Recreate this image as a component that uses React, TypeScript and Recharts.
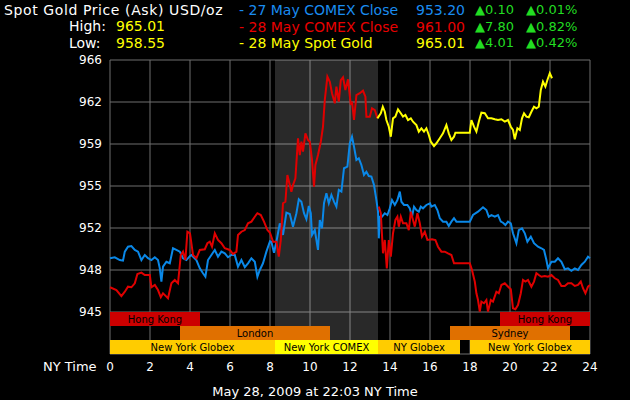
import React from 'react';
import { LineChart, Line, XAxis, YAxis, CartesianGrid, ReferenceArea } from 'recharts';

const FONT = '"DejaVu Sans", Verdana, sans-serif';

// NY time in hours, price in USD/oz
const hourTicks = [0, 2, 4, 6, 8, 10, 12, 14, 16, 18, 20, 22, 24];
const priceTicks = [941.5, 945, 948.5, 952, 955.5, 959, 962.5, 966];
const comexSession = [8.25, 13.4];

const sessions = [
  { name: 'Hong Kong', start: 0, end: 4.5, row: 0, kind: 'asia' },
  { name: 'Hong Kong', start: 19.5, end: 24, row: 0, kind: 'asia' },
  { name: 'London', start: 3.5, end: 11, row: 1, kind: 'europe' },
  { name: 'Sydney', start: 17, end: 23, row: 1, kind: 'europe' },
  { name: 'New York Globex', start: 0, end: 8.25, row: 2, kind: 'globex' },
  { name: 'New York COMEX', start: 8.25, end: 13.4, row: 2, kind: 'comex' },
  { name: 'NY Globex', start: 13.4, end: 17.5, row: 2, kind: 'globex' },
  { name: 'New York Globex', start: 18, end: 24, row: 2, kind: 'globex' },
];

const blueSeries: [number, number][] = [
  [0, 949.48], [0.24, 949.56], [0.49, 949.33], [0.65, 949.28], [0.74, 950.03], [0.9, 950.44], [1.07, 950.5],
  [1.24, 950.17], [1.4, 950.03], [1.57, 949.33], [1.74, 949.75], [1.9, 949.48], [2.07, 949.33], [2.24, 949.56],
  [2.4, 949.33], [2.49, 948.64], [2.57, 947.53], [2.65, 948.78], [2.82, 949.19], [2.99, 949.06], [3.15, 950.31],
  [3.32, 950.17], [3.49, 950.03], [3.65, 949.48], [3.82, 949.33], [4.0, 949.67], [4.07, 949.75], [4.32, 949.33],
  [4.49, 948.64], [4.65, 948.23], [4.77, 947.94], [4.9, 949.33], [5.07, 949.75], [5.24, 950.17], [5.4, 949.61],
  [5.57, 950.03], [5.74, 949.89], [5.9, 949.56], [6.07, 949.75], [6.24, 949.75], [6.4, 948.78], [6.57, 949.33],
  [6.74, 948.73], [6.9, 949.06], [7.07, 949.48], [7.24, 949.19], [7.37, 947.94], [7.49, 948.5], [7.65, 949.06],
  [7.82, 950.03], [8.0, 950.9], [8.07, 950.86], [8.2, 949.94], [8.32, 950.86], [8.49, 952.39], [8.65, 951.42],
  [8.82, 953.28], [8.99, 953.17], [9.15, 952.11], [9.32, 953.23], [9.44, 954.39], [9.57, 954.19], [9.7, 953.23],
  [9.82, 952.73], [9.94, 953.83], [10.04, 953.23], [10.1, 951.42], [10.24, 951.83], [10.4, 950.17], [10.49, 952.67],
  [10.6, 951.98], [10.7, 954.06], [10.82, 954.89], [10.94, 954.06], [11.07, 954.75], [11.2, 954.19], [11.32, 953.78],
  [11.44, 955.17], [11.57, 955.03], [11.7, 956.98], [11.87, 957.11], [11.99, 959.06], [12.1, 959.61], [12.2, 958.78],
  [12.32, 957.67], [12.44, 957.81], [12.57, 957.25], [12.7, 956.42], [12.82, 956.69], [12.94, 956.33], [13.07, 956.28],
  [13.2, 955.58], [13.32, 954.33], [13.4, 953.36], [13.44, 951.14], [13.5, 952.94], [13.6, 952.94], [13.74, 953.23],
  [13.87, 953.08], [13.99, 953.64], [14.1, 954.33], [14.24, 953.92], [14.37, 954.33], [14.49, 955.03], [14.57, 954.19],
  [14.7, 953.92], [14.87, 953.92], [14.99, 953.64], [15.1, 952.94], [15.2, 953.78], [15.32, 953.5], [15.44, 953.36],
  [15.54, 953.78], [15.65, 953.64], [15.82, 953.92], [16.0, 954.06], [16.07, 953.78], [16.24, 953.92], [16.37, 953.5],
  [16.49, 952.81], [16.65, 952.53], [16.82, 952.53], [16.94, 952.17], [17.07, 952.53], [17.2, 952.81], [17.32, 952.53],
  [17.99, 952.53], [18.15, 953.08], [18.4, 953.36], [18.65, 953.73], [18.82, 953.5], [18.94, 952.94], [19.07, 953.08],
  [19.24, 952.94], [19.4, 953.08], [19.54, 952.53], [19.65, 952.44], [19.77, 952.25], [19.9, 952.53], [20.04, 952.39],
  [20.15, 951.56], [20.32, 950.73], [20.44, 951.83], [20.6, 951.98], [20.74, 951.56], [20.87, 950.86], [21.04, 951.28],
  [21.2, 950.73], [21.4, 950.44], [21.57, 950.31], [21.7, 950.17], [21.82, 949.33], [21.9, 948.64], [22.07, 949.19],
  [22.24, 949.19], [22.4, 949.48], [22.57, 949.19], [22.74, 948.56], [22.9, 948.64], [23.07, 948.44], [23.24, 948.64],
  [23.4, 948.5], [23.57, 948.92], [23.74, 949.19], [23.9, 949.61], [24.0, 949.48],
];

const redSeries: [number, number | null][] = [
  [0, 947.06], [0.32, 946.83], [0.57, 946.33], [0.74, 946.69], [0.9, 947.11], [1.07, 947.06], [1.24, 947.39],
  [1.37, 948.17], [1.57, 948.28], [1.74, 948.08], [1.99, 948.08], [2.07, 947.06], [2.24, 947.25], [2.4, 946.83],
  [2.54, 946.23], [2.65, 946.56], [2.82, 946.28], [2.9, 946.14], [3.07, 947.39], [3.24, 947.67], [3.4, 947.39],
  [3.54, 949.75], [3.65, 950.03], [3.77, 949.33], [3.87, 951.69], [4.0, 951.56], [4.15, 949.75], [4.32, 949.48],
  [4.49, 950.17], [4.74, 950.23], [4.87, 950.73], [4.99, 950.86], [5.1, 950.44], [5.24, 951.56], [5.4, 951.0],
  [5.57, 950.73], [5.74, 950.31], [5.99, 950.17], [6.15, 949.83], [6.32, 950.03], [6.4, 951.42], [6.57, 951.69],
  [6.74, 951.83], [6.9, 952.39], [7.07, 952.53], [7.24, 952.94], [7.37, 953.23], [7.54, 953.08], [7.7, 952.53],
  [7.87, 951.83], [8.0, 951.61], [8.15, 950.86], [8.32, 950.86], [8.44, 949.61], [8.54, 951.0], [8.65, 954.06],
  [8.77, 954.19], [8.87, 956.42], [8.99, 955.58], [9.07, 955.03], [9.15, 955.58], [9.27, 956.14], [9.4, 959.48],
  [9.49, 958.08], [9.57, 959.19], [9.65, 958.36], [9.77, 959.89], [9.9, 959.33], [9.99, 959.19], [10.1, 957.67],
  [10.2, 955.44], [10.27, 957.25], [10.4, 958.08], [10.54, 959.19], [10.65, 960.44], [10.74, 962.67], [10.87, 964.61],
  [10.99, 964.19], [11.1, 963.23], [11.24, 962.39], [11.32, 963.78], [11.44, 962.53], [11.54, 964.33], [11.65, 964.56],
  [11.77, 963.5], [11.9, 964.39], [12.04, 962.25], [12.1, 962.53], [12.2, 961.0], [12.32, 963.08], [12.49, 963.23],
  [12.65, 963.44], [12.77, 962.94], [12.82, 961.28], [12.99, 961.28], [13.1, 961.98], [13.24, 961.83], [13.37, 961.14],
  [13.4, null],
  [13.44, 953.78], [13.54, 953.23], [13.65, 949.89], [13.74, 951.0], [13.84, 948.64], [13.94, 951.0], [14.04, 949.61],
  [14.15, 951.56], [14.27, 952.67], [14.37, 952.94], [14.44, 952.11], [14.54, 952.94], [14.65, 952.39], [14.82, 952.39],
  [14.94, 951.83], [15.04, 953.36], [15.15, 952.67], [15.24, 952.11], [15.37, 953.23], [15.49, 952.39], [15.6, 951.28],
  [15.74, 951.69], [15.87, 951.0], [16.1, 951.06], [16.27, 951.0], [16.4, 950.44], [16.57, 950.03], [16.74, 950.03],
  [16.9, 949.89], [17.07, 949.75], [17.2, 949.06], [17.99, 949.06], [18.1, 948.5], [18.24, 947.53], [18.32, 946.56],
  [18.4, 946.0], [18.49, 945.03], [18.57, 945.86], [18.7, 945.73], [18.82, 946.0], [18.9, 945.03], [19.04, 946.0],
  [19.15, 945.86], [19.32, 946.69], [19.44, 946.56], [19.57, 947.25], [19.74, 947.39], [19.87, 947.17], [20.04, 946.89],
  [20.15, 945.31], [20.27, 945.23], [20.4, 945.58], [20.54, 946.56], [20.65, 947.67], [20.77, 947.53], [20.9, 947.67],
  [21.07, 947.11], [21.2, 947.53], [21.32, 948.23], [21.44, 948.08], [21.57, 947.94], [21.74, 948.0], [21.9, 947.94],
  [22.07, 948.08], [22.24, 947.81], [22.4, 947.67], [22.57, 947.17], [22.74, 947.17], [22.9, 947.39], [23.07, 947.39],
  [23.24, 947.17], [23.4, 947.25], [23.54, 947.53], [23.65, 946.98], [23.77, 946.56], [23.9, 947.11], [24.0, 947.25],
];

const yellowSeries: [number, number][] = [
  [13.37, 961.14], [13.54, 961.56], [13.64, 962.11], [13.74, 961.69], [13.82, 961.0], [13.94, 960.44], [14.04, 959.61],
  [14.15, 961.14], [14.27, 961.28], [14.4, 961.89], [14.54, 961.56], [14.65, 961.28], [14.77, 961.42], [14.9, 961.0],
  [15.04, 961.14], [15.15, 960.86], [15.32, 960.58], [15.44, 960.03], [15.57, 960.31], [15.7, 960.03], [15.82, 960.31],
  [15.94, 959.75], [16.04, 959.19], [16.2, 958.83], [16.32, 959.06], [16.49, 959.48], [16.65, 959.89], [16.82, 960.58],
  [16.94, 959.89], [17.07, 959.33], [17.2, 959.61], [17.27, 959.94], [17.99, 959.94], [18.07, 961.0], [18.2, 960.44],
  [18.32, 960.03], [18.44, 960.86], [18.57, 961.61], [18.74, 961.56], [18.9, 961.14], [19.07, 961.14], [19.24, 961.06],
  [19.4, 961.0], [19.57, 961.06], [19.74, 960.86], [19.9, 961.0], [20.04, 960.44], [20.15, 960.17], [20.24, 959.39],
  [20.37, 960.31], [20.49, 960.17], [20.6, 961.14], [20.7, 961.56], [20.82, 961.28], [20.94, 961.23], [21.07, 961.69],
  [21.2, 962.11], [21.32, 961.98], [21.44, 962.11], [21.54, 963.5], [21.65, 964.19], [21.77, 963.78], [21.87, 964.33],
  [21.99, 964.9], [22.1, 964.48],
];

const headerRows = [
  { label: '- 27 May COMEX Close', price: '953.20', change: '0.10', pct: '0.01%', color: '#1a8cf0' },
  { label: '- 28 May COMEX Close', price: '961.00', change: '7.80', pct: '0.82%', color: '#e80000' },
  { label: '- 28 May Spot Gold', price: '965.01', change: '4.01', pct: '0.42%', color: '#ffff00' },
];

const dayHigh = '965.01';
const dayLow = '958.55';
const timestamp = 'May 28, 2009 at 22:03 NY Time';

const toRows = (s: [number, number | null][]) => s.map(([h, v]) => ({ h, v }));

const ROW = 3.5 / 3;
const sessionFill: Record<string, string> = {
  asia: '#cc0000',
  europe: '#e07000',
  globex: '#ffcc00',
  comex: '#ffff00',
};

const txt = (left: number, top: number, color: string, extra: React.CSSProperties = {}) => ({
  position: 'absolute' as const,
  left,
  top,
  color,
  fontSize: 14,
  lineHeight: '16px',
  whiteSpace: 'nowrap' as const,
  ...extra,
});

export default function App() {
  return (
    <div style={{ position: 'absolute', left: 0, top: 0, width: 630, height: 400, background: '#000', fontFamily: FONT }}>
      <LineChart width={630} height={400} margin={{ top: 60, right: 40, left: 0, bottom: 0 }}>
        <CartesianGrid stroke="#6e6e6e" strokeWidth={1} />
        <XAxis
          type="number"
          dataKey="h"
          domain={[0, 24]}
          ticks={hourTicks}
          interval={0}
          height={46}
          axisLine={false}
          tickLine={false}
          tick={{ fill: '#fff', fontSize: 12, fontFamily: FONT }}
        />
        <YAxis
          type="number"
          domain={[941.5, 966]}
          ticks={priceTicks}
          interval={0}
          width={110}
          axisLine={false}
          tickLine={false}
          tickFormatter={(v: number) => (v < 945 ? '' : String(Math.floor(v)))}
          tick={{ fill: '#fff', fontSize: 12, fontFamily: FONT }}
        />
        <ReferenceArea x1={comexSession[0]} x2={comexSession[1]} y1={941.5} y2={966} fill="#fff" fillOpacity={0.16} stroke="none" />
        {sessions.map((s, i) => (
          <ReferenceArea
            key={i}
            x1={s.start}
            x2={s.end}
            y1={945 - (s.row + 1) * ROW}
            y2={945 - s.row * ROW}
            fill={sessionFill[s.kind]}
            fillOpacity={1}
            stroke="none"
            label={{ value: s.name, position: 'center', fill: '#000', fontSize: 10, fontFamily: FONT }}
          />
        ))}
        <Line data={toRows(blueSeries)} dataKey="v" stroke="#0a88e8" strokeWidth={2} dot={false} isAnimationActive={false} />
        <Line data={toRows(redSeries)} dataKey="v" stroke="#e00000" strokeWidth={2} dot={false} isAnimationActive={false} />
        <Line data={toRows(yellowSeries)} dataKey="v" stroke="#ffff00" strokeWidth={2} dot={false} isAnimationActive={false} />
      </LineChart>

      <div style={txt(4, 2, '#fff', { letterSpacing: 0.6 })}>Spot Gold Price (Ask) USD/oz</div>
      <div style={txt(69, 18, '#fff')}>High:</div>
      <div style={txt(116, 18, '#ffff00')}>{dayHigh}</div>
      <div style={txt(69, 35, '#fff')}>Low:</div>
      <div style={txt(116, 35, '#ffff00')}>{dayLow}</div>
      {headerRows.map((r, i) => (
        <React.Fragment key={i}>
          <div style={txt(239, 2 + i * 16.5, r.color)}>{r.label}</div>
          <div style={txt(416, 2 + i * 16.5, r.color)}>{r.price}</div>
          <div style={txt(475, 2 + i * 16.5, '#22dd22', { fontSize: 13 })}>▲{r.change}</div>
          <div style={txt(526, 2 + i * 16.5, '#22dd22', { fontSize: 13 })}>▲{r.pct}</div>
        </React.Fragment>
      ))}
      <div style={txt(43, 359, '#fff', { fontSize: 13 })}>NY Time</div>
      <div style={txt(0, 384, '#fff', { width: 630, textAlign: 'center', fontSize: 13 })}>{timestamp}</div>
    </div>
  );
}
